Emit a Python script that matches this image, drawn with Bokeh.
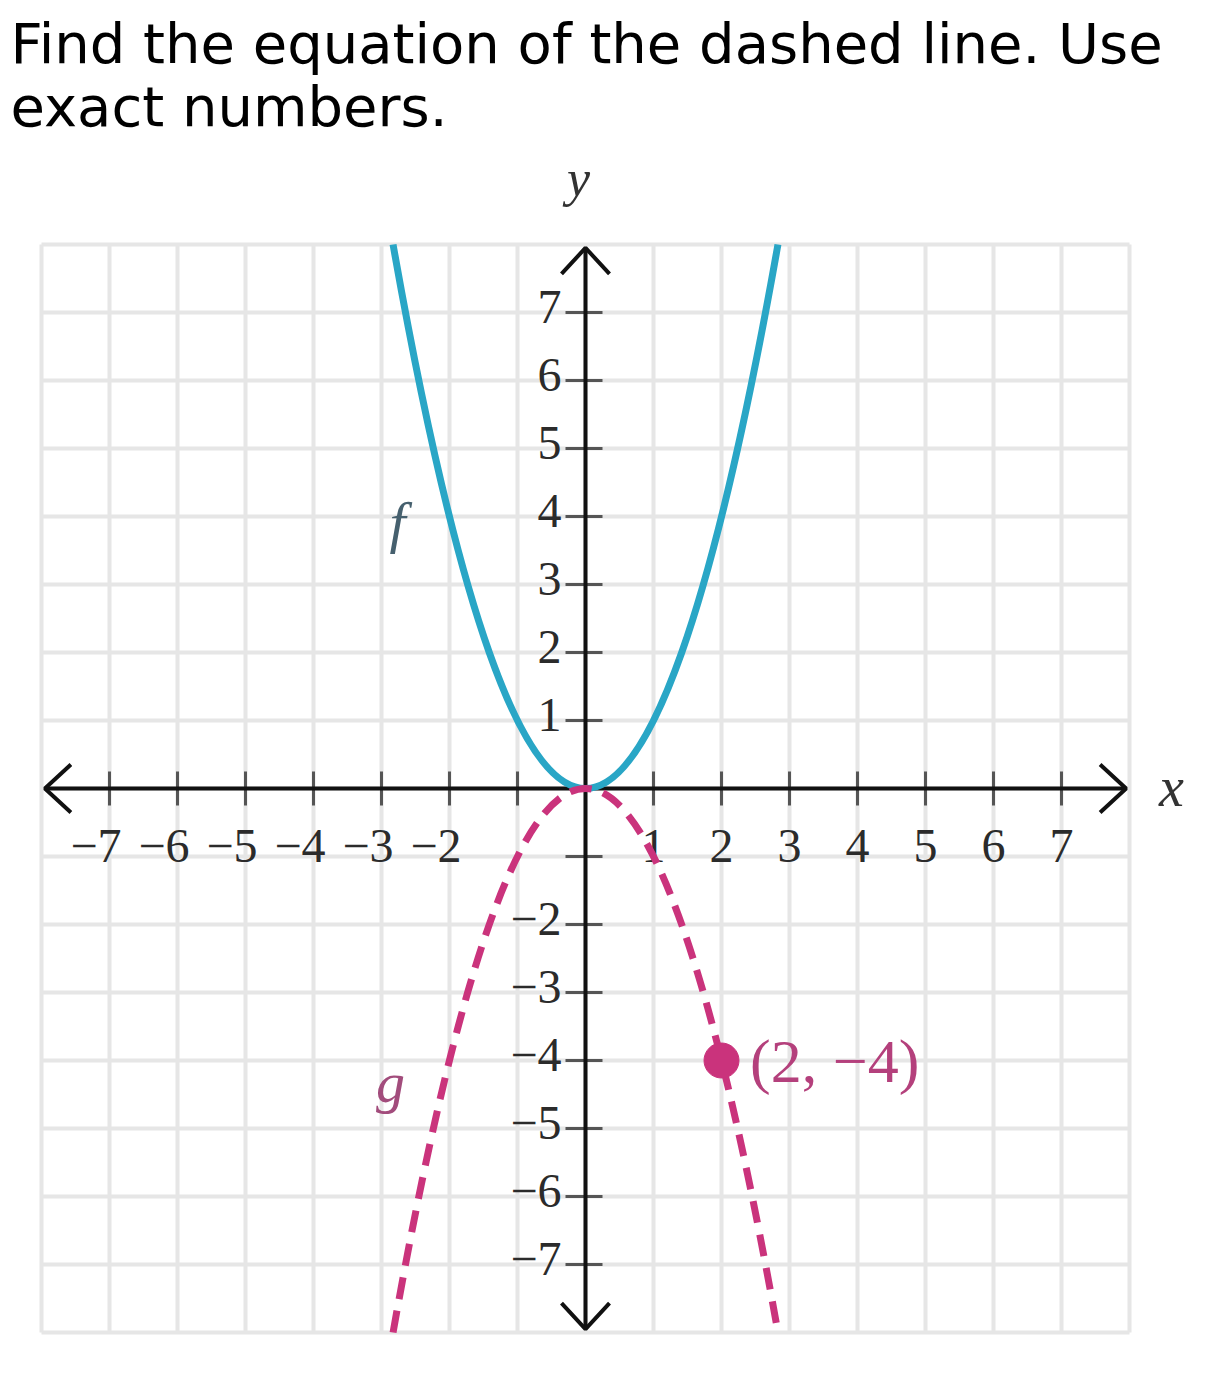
from bokeh.plotting import figure
from bokeh.models import Range1d
from bokeh.embed import file_html
from bokeh.resources import INLINE
from bokeh.core.properties import value

# ---------------- data ----------------
title_lines = ["Find the equation of the dashed line. Use", "exact numbers."]
grid_values = list(range(-8, 9))
x_tick_values = [-7, -6, -5, -4, -3, -2, -1, 1, 2, 3, 4, 5, 6, 7]
y_tick_values = [-7, -6, -5, -4, -3, -2, -1, 1, 2, 3, 4, 5, 6, 7]
x_neg_label_values = [-7, -6, -5, -4, -3, -2]
x_neg_label_texts = ["−7", "−6", "−5", "−4", "−3", "−2"]
x_pos_label_values = [1, 2, 3, 4, 5, 6, 7]
x_pos_label_texts = ["1", "2", "3", "4", "5", "6", "7"]
y_label_values = [7, 6, 5, 4, 3, 2, 1, -2, -3, -4, -5, -6, -7]
y_label_texts = ["7", "6", "5", "4", "3", "2", "1", "−2", "−3", "−4", "−5", "−6", "−7"]
axis_extent = 7.95

# f: upward parabola through vertex and two end points
f_vertex = (0.0, 0.0)
f_left = (-2.83, 8.0)
f_right = (2.83, 8.0)
# g: dashed downward parabola
g_vertex = (0.0, 0.0)
g_left = (-2.83, -8.0)
g_right = (2.83, -8.0)

point_x = [2]
point_y = [-4]
point_text = ["(2, −4)"]

# ---------------- layout ----------------
W, H = 1205, 1370
UNIT = 68.0
ORIGIN_X, ORIGIN_Y = 585, 788  # page pixels


def px(X):
    return (X - ORIGIN_X) / UNIT


def py(Y):
    return (ORIGIN_Y - Y) / UNIT


p = figure(width=W, height=H, output_backend="svg", toolbar_location=None,
           x_range=Range1d(px(0), px(W)), y_range=Range1d(py(H), py(0)),
           x_axis_type=None, y_axis_type=None, min_border=0)
p.outline_line_color = None
p.xgrid.visible = False
p.ygrid.visible = False
p.background_fill_color = "white"
p.border_fill_color = "white"

LO, HI = grid_values[0], grid_values[-1]

# grid
p.segment(x0=grid_values, y0=[LO] * len(grid_values), x1=grid_values, y1=[HI] * len(grid_values),
          line_color="#e6e6e6", line_width=4)
p.segment(x0=[LO] * len(grid_values), y0=grid_values, x1=[HI] * len(grid_values), y1=grid_values,
          line_color="#e6e6e6", line_width=4)

# ticks
tk = 17 / UNIT
p.segment(x0=x_tick_values, y0=[-tk] * len(x_tick_values), x1=x_tick_values, y1=[tk] * len(x_tick_values),
          line_color="#555555", line_width=3)
p.segment(x0=[-20 / UNIT] * len(y_tick_values), y0=y_tick_values, x1=[17 / UNIT] * len(y_tick_values),
          y1=y_tick_values, line_color="#555555", line_width=3)

# axes
p.segment(x0=[-axis_extent, 0], y0=[0, -axis_extent], x1=[axis_extent, 0], y1=[0, axis_extent],
          line_color="#111111", line_width=4)
hl, hw = 26 / UNIT, 24 / UNIT
chev_xs = [
    [-axis_extent + hl, -axis_extent, -axis_extent + hl],
    [axis_extent - hl, axis_extent, axis_extent - hl],
    [-hw, 0, hw],
    [-hw, 0, hw],
]
chev_ys = [
    [hw, 0, -hw],
    [hw, 0, -hw],
    [axis_extent - hl, axis_extent, axis_extent - hl],
    [-axis_extent + hl, -axis_extent, -axis_extent + hl],
]
p.multi_line(xs=chev_xs, ys=chev_ys, line_color="#111111", line_width=4)

serif = value("Liberation Serif")
label_y = py(845)
# x tick labels: digit centred on tick
p.text(x=[v + 12 / UNIT for v in x_neg_label_values], y=[label_y] * len(x_neg_label_values),
       text=x_neg_label_texts, text_font=serif, text_font_size="48px", text_color="#2b2b2b",
       text_align="right", text_baseline="middle")
p.text(x=x_pos_label_values, y=[label_y] * len(x_pos_label_values),
       text=x_pos_label_texts, text_font=serif, text_font_size="48px", text_color="#2b2b2b",
       text_align="center", text_baseline="middle")

# y tick labels
p.text(x=[px(561)] * len(y_label_values), y=[v + 6 / UNIT for v in y_label_values],
       text=y_label_texts, text_font=serif, text_font_size="48px", text_color="#2b2b2b",
       text_align="right", text_baseline="middle")

# axis names
p.text(x=[px(1171)], y=[py(786)], text=["x"], text_font=serif, text_font_style="italic",
       text_font_size="56px", text_color="#333333", text_align="center", text_baseline="middle")
p.text(x=[px(578)], y=[py(178)], text=["y"], text_font=serif, text_font_style="italic",
       text_font_size="52px", text_color="#333333", text_align="center", text_baseline="middle")


def ctrl(v, a, b):
    return (2 * v[0] - 0.5 * (a[0] + b[0]), 2 * v[1] - 0.5 * (a[1] + b[1]))


fc = ctrl(f_vertex, f_left, f_right)
gc = ctrl(g_vertex, g_left, g_right)
p.quadratic(x0=[f_left[0]], y0=[f_left[1]], x1=[f_right[0]], y1=[f_right[1]], cx=[fc[0]], cy=[fc[1]],
            line_color="#29a6c6", line_width=7)
p.quadratic(x0=[g_left[0]], y0=[g_left[1]], x1=[g_right[0]], y1=[g_right[1]], cx=[gc[0]], cy=[gc[1]],
            line_color="#ca337c", line_width=7, line_dash="22 12")

# point
p.scatter(x=point_x, y=point_y, size=35, fill_color="#ca337c", line_color="#ca337c")
p.text(x=[v + 0.42 for v in point_x], y=point_y, text=point_text, text_font=serif,
       text_font_size="62px", text_color="#b4407c", text_align="left", text_baseline="middle")

# curve labels
p.text(x=[px(397)], y=[py(522)], text=["f"], text_font=serif, text_font_style="italic",
       text_font_size="58px", text_color="#46606e", text_align="center", text_baseline="middle")
p.text(x=[px(390)], y=[py(1082)], text=["g"], text_font=serif, text_font_style="italic",
       text_font_size="58px", text_color="#a24c7c", text_align="center", text_baseline="middle")

# title
p.text(x=[px(10)] * 2, y=[py(43), py(106)], text=title_lines, text_font=value("DejaVu Sans"),
       text_font_size="56px", text_color="#000000", text_align="left", text_baseline="middle")

open("out.html", "w").write(file_html(p, INLINE))
